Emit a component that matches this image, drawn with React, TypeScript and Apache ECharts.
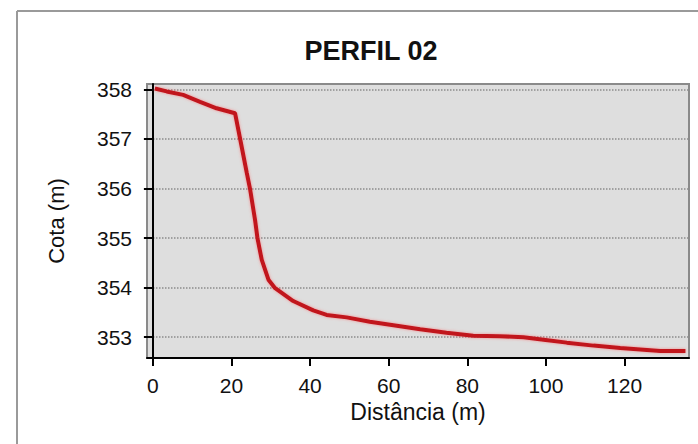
import React, { useEffect, useRef } from "react";
import * as echarts from "echarts";

const distancias = [0.5, 3.5, 7.7, 12, 16.2, 20.9, 22.2, 23.9, 24.7, 26, 26.6, 27.7, 29.4, 31.1, 35.7, 40.8, 44.2, 49.3, 55.2, 61.2, 68, 74.7, 81.5, 88.3, 94.3, 99.4, 105.3, 112.1, 118.9, 125.7, 129.1, 135.5];
const cotas = [358.02, 357.96, 357.89, 357.75, 357.62, 357.52, 357.0, 356.31, 356.0, 355.36, 355.0, 354.56, 354.16, 353.99, 353.73, 353.54, 353.45, 353.4, 353.31, 353.24, 353.16, 353.09, 353.03, 353.02, 353.0, 352.95, 352.89, 352.83, 352.78, 352.74, 352.72, 352.72];
const xTicks = [0, 20, 40, 60, 80, 100, 120];
const yTicks = [353, 354, 355, 356, 357, 358];

const FONT = "Liberation Sans, Arial, sans-serif";

export default function App() {
  const ref = useRef<HTMLDivElement>(null);
  useEffect(() => {
    document.body.style.margin = "0";
    const chart = echarts.init(ref.current!, undefined, { renderer: "svg" });
    const data = distancias.map((d, i) => [d, cotas[i]]);
    chart.setOption({
      animation: false,
      backgroundColor: "#ffffff",
      title: {
        text: "PERFIL 02",
        left: 366,
        top: 32,
        textAlign: "center",
        textStyle: { fontFamily: FONT, fontWeight: "bold", fontSize: 27, color: "#111" },
      },
      graphic: [
        { type: "line", shape: { x1: 17, y1: 11, x2: 698, y2: 11 }, style: { stroke: "#9a9a9a", lineWidth: 2 } },
        { type: "line", shape: { x1: 17, y1: 11, x2: 17, y2: 444 }, style: { stroke: "#9a9a9a", lineWidth: 2 } },
      ],
      grid: {
        left: 147,
        top: 84,
        right: 9,
        bottom: 86,
        show: true,
        backgroundColor: "#dedede",
        borderColor: "#8a8a8a",
        borderWidth: 2,
      },
      xAxis: {
        type: "value",
        min: -1.5,
        max: 136.4,
        name: "Distância (m)",
        nameLocation: "middle",
        nameGap: 41,
        nameTextStyle: { fontFamily: FONT, fontSize: 23, color: "#111" },
        axisLine: { show: true, lineStyle: { color: "#000", width: 2 } },
        axisTick: { show: true, length: 8, customValues: xTicks, lineStyle: { color: "#000", width: 2 } },
        axisLabel: { customValues: xTicks, margin: 17, fontFamily: FONT, fontSize: 21, color: "#111" },
        splitLine: { show: false },
      },
      yAxis: {
        type: "value",
        min: 352.58,
        max: 358.11,
        name: "Cota (m)",
        nameLocation: "middle",
        nameGap: 80,
        nameRotate: 90,
        nameTextStyle: { fontFamily: FONT, fontSize: 22, color: "#111" },
        axisLine: { show: true, lineStyle: { color: "#000", width: 2 } },
        axisTick: { show: true, length: 9, customValues: yTicks, lineStyle: { color: "#000", width: 2 } },
        axisLabel: { customValues: yTicks, margin: 15, fontFamily: FONT, fontSize: 21, color: "#111" },
        splitLine: { show: true, lineStyle: { color: "#8c8c8c", type: "dotted", width: 1.5 } },
      },
      series: [
        {
          type: "line",
          data,
          showSymbol: false,
          smooth: false,
          lineStyle: { color: "#c1121f", width: 4, shadowColor: "rgba(255,90,90,0.6)", shadowBlur: 3 },
        },
      ],
    });
    return () => chart.dispose();
  }, []);
  return <div ref={ref} style={{ width: 698, height: 444 }} />;
}
